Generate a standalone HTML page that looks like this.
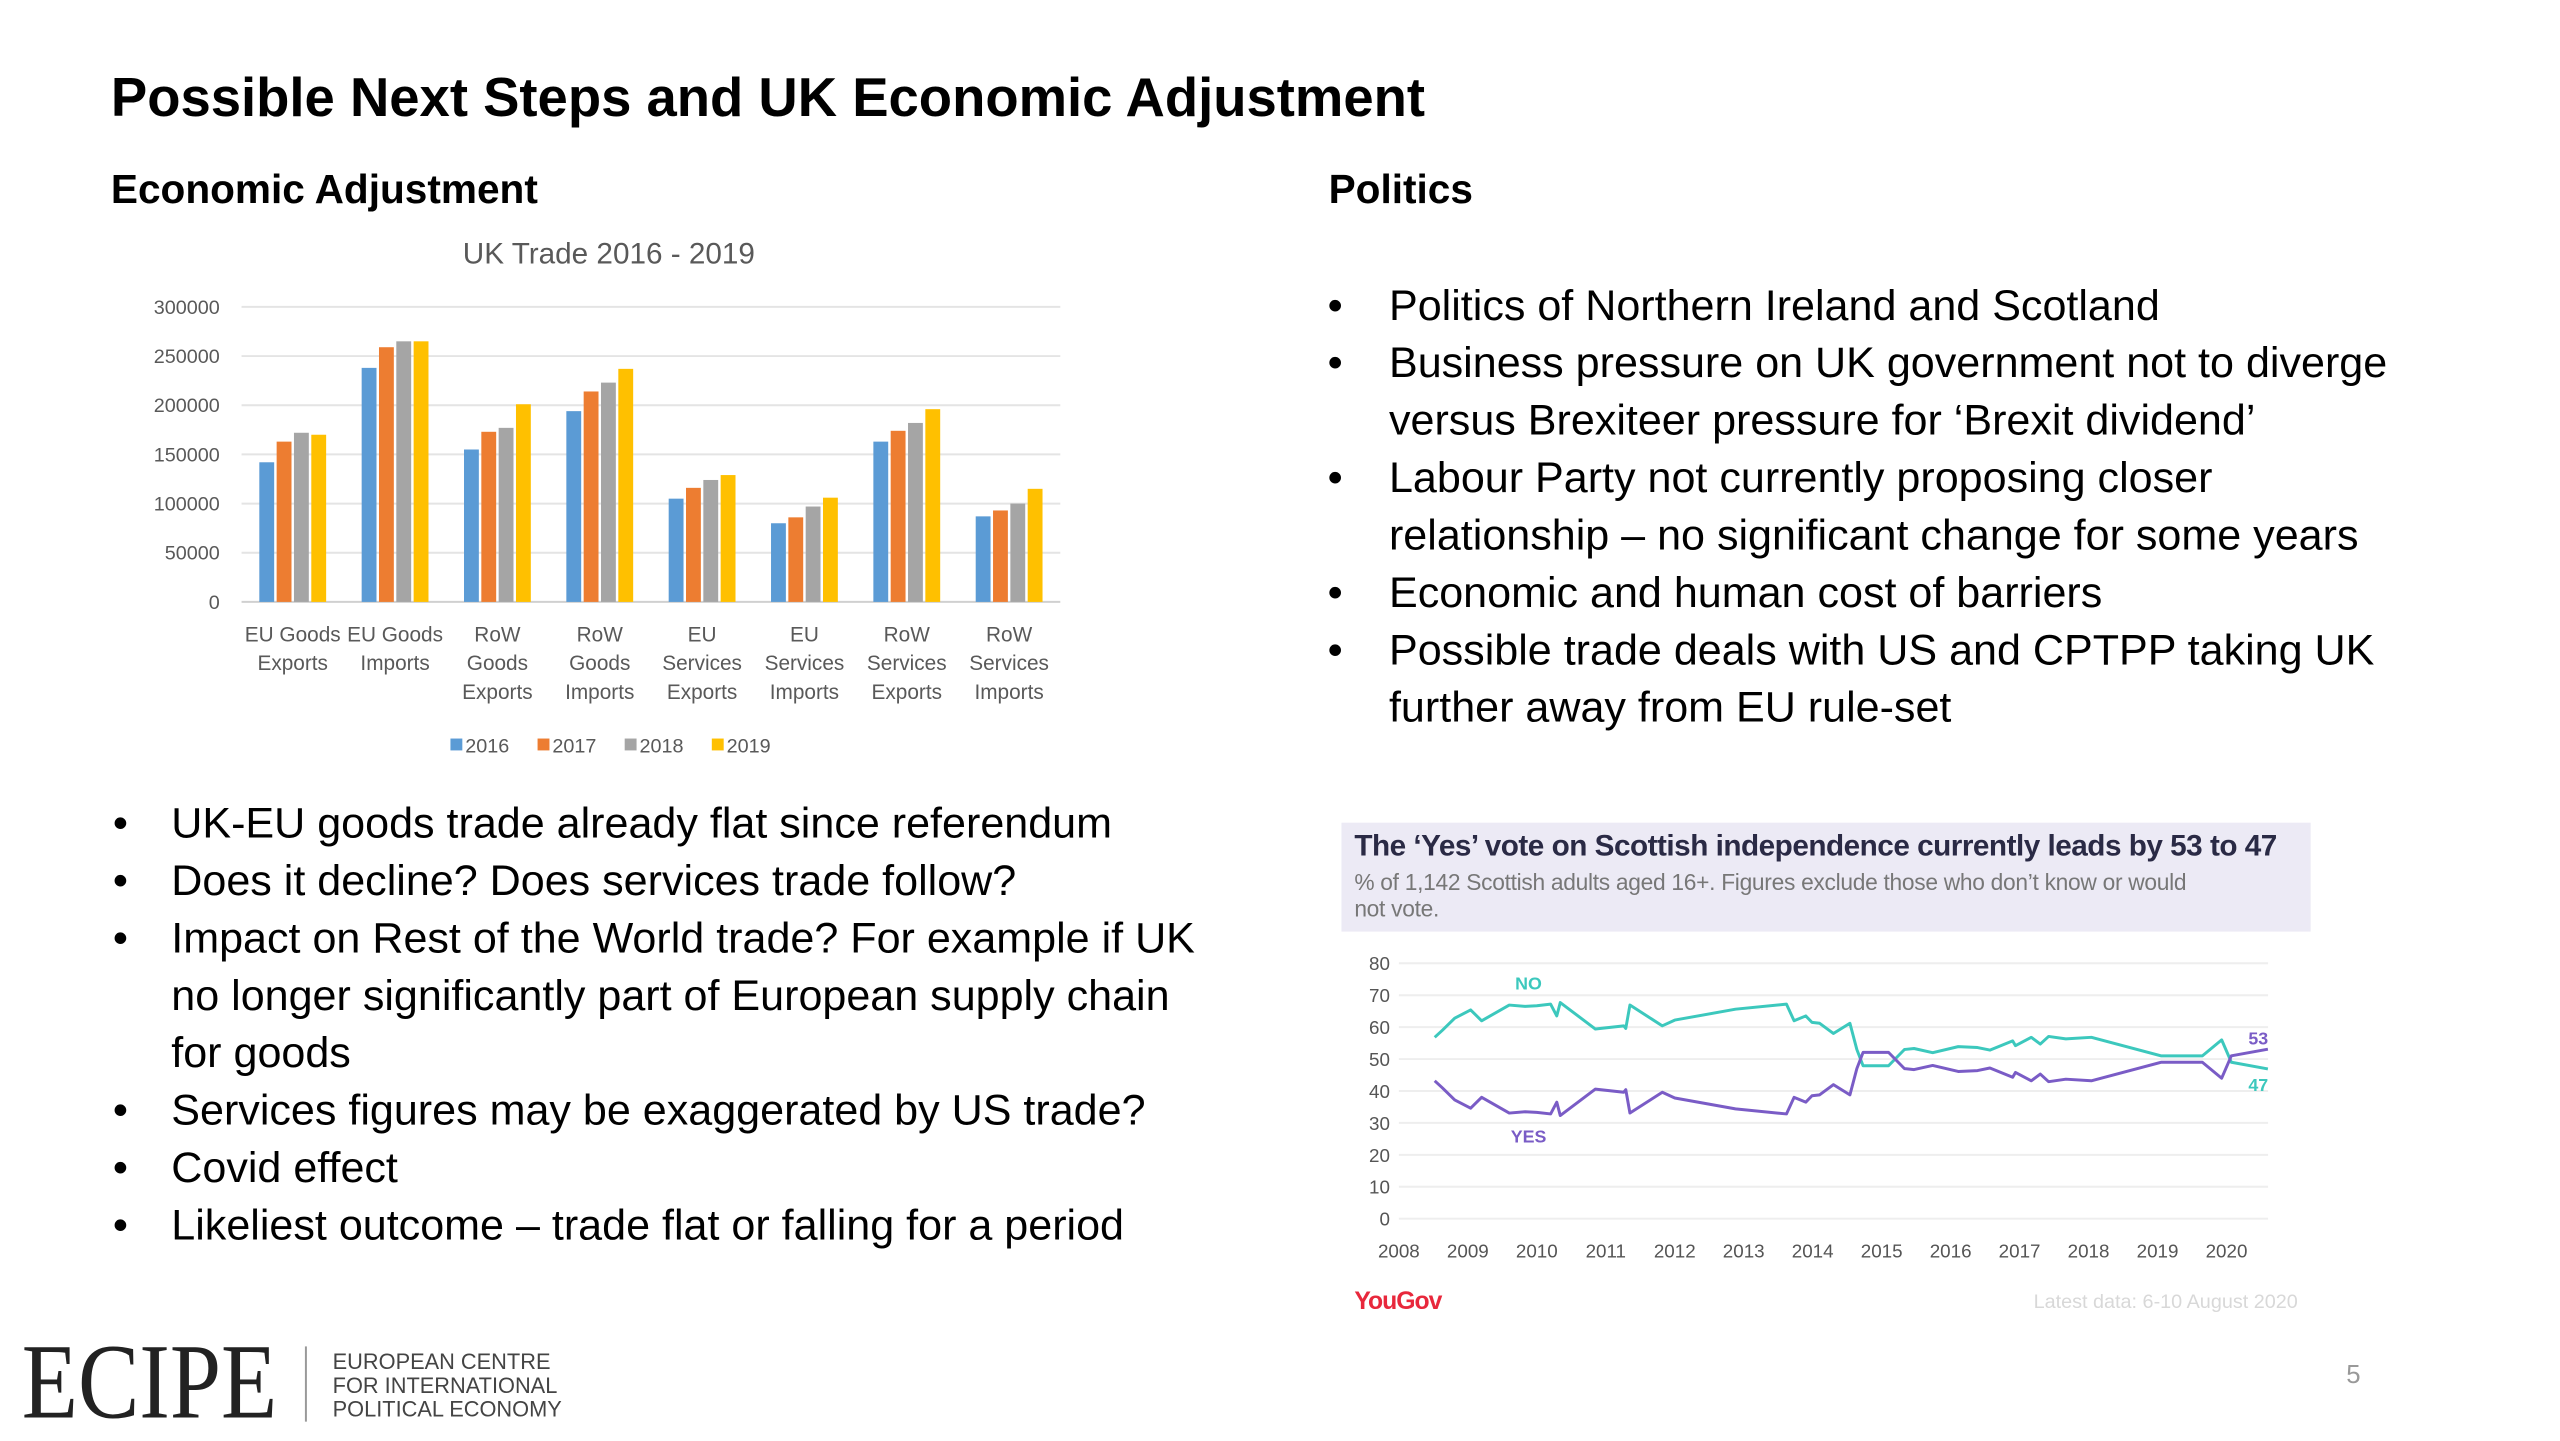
<!DOCTYPE html>
<html><head><meta charset="utf-8"><style>
body{margin:0;width:2560px;height:1440px;background:#fff;position:relative;overflow:hidden;font-family:"Liberation Sans",sans-serif;color:#000}
#wrap{position:absolute;left:0;top:0;width:2560px;height:1440px;transform:scale(0.99);transform-origin:0 0}
.a{position:absolute;white-space:nowrap}
.h{font-weight:bold}
ul{list-style:none;margin:0;padding:0}
.bl{position:absolute;font-size:43.5px;line-height:58px;white-space:nowrap}
.bl li{position:relative;padding-left:57px}
.bl li::before{content:"•";position:absolute;left:0}
</style></head><body>
<div id="wrap">
<div class="a h" style="left:112px;top:66px;font-size:55px">Possible Next Steps and UK Economic Adjustment</div>
<div class="a h" style="left:112px;top:168px;font-size:41px">Economic Adjustment</div>
<div class="a h" style="left:1342px;top:168px;font-size:41px">Politics</div>

<svg id="bar" style="position:absolute;left:0;top:0" width="1200" height="800"></svg>

<ul class="bl" style="left:1341px;top:280px">
<li style="padding-left:62px">Politics of Northern Ireland and Scotland</li>
<li style="padding-left:62px">Business pressure on UK government not to diverge<br>versus Brexiteer pressure for ‘Brexit dividend’</li>
<li style="padding-left:62px">Labour Party not currently proposing closer<br>relationship – no significant change for some years</li>
<li style="padding-left:62px">Economic and human cost of barriers</li>
<li style="padding-left:62px">Possible trade deals with US and CPTPP taking UK<br>further away from EU rule-set</li>
</ul>
<ul class="bl" style="left:114px;top:803px">
<li style="padding-left:59px">UK-EU goods trade already flat since referendum</li>
<li style="padding-left:59px">Does it decline? Does services trade follow?</li>
<li style="padding-left:59px">Impact on Rest of the World trade? For example if UK<br>no longer significantly part of European supply chain<br>for goods</li>
<li style="padding-left:59px">Services figures may be exaggerated by US trade?</li>
<li style="padding-left:59px">Covid effect</li>
<li style="padding-left:59px">Likeliest outcome – trade flat or falling for a period</li>
</ul>

<div class="a" style="left:1355px;top:831px;width:979px;height:110px;background:#eceaf5"></div>
<div class="a h" style="left:1368px;top:838px;font-size:30px;color:#2a2a45;letter-spacing:-0.5px">The ‘Yes’ vote on Scottish independence currently leads by 53 to 47</div>
<div class="a" style="left:1368px;top:878px;font-size:23px;line-height:27px;color:#777;letter-spacing:-0.3px">% of 1,142 Scottish adults aged 16+. Figures exclude those who don’t know or would<br>not vote.</div>
<svg id="line" style="position:absolute;left:1340px;top:940px" width="1000" height="360"></svg>
<div class="a h" style="left:1368px;top:1300px;font-size:25px;color:#e8283c;letter-spacing:-1px">YouGov</div>
<div class="a" style="right:239px;top:1304px;font-size:20px;color:#d8d8d8">Latest data: 6-10 August 2020</div>

<div class="a" style="left:22px;top:1343px;font-family:'Liberation Serif',serif;font-size:108px;line-height:108px;color:#222;transform:scaleX(0.86);transform-origin:left">ECIPE</div>
<div class="a" style="left:308px;top:1360px;width:2px;height:76px;background:#999"></div>
<div class="a" style="left:336px;top:1364px;font-size:22px;line-height:24px;color:#444">EUROPEAN CENTRE<br>FOR INTERNATIONAL<br>POLITICAL ECONOMY</div>
<div class="a" style="left:2370px;top:1373px;font-size:26px;color:#999">5</div>
</div>

<script>
const NS="http://www.w3.org/2000/svg";
function mk(p,t,at,txt){const e=document.createElementNS(NS,t);for(const k in at)e.setAttribute(k,at[k]);if(txt!==undefined)e.textContent=txt;p.appendChild(e);return e;}

// ---- Bar chart data ----
const categories=[["EU Goods","Exports"],["EU Goods","Imports"],["RoW","Goods","Exports"],["RoW","Goods","Imports"],["EU","Services","Exports"],["EU","Services","Imports"],["RoW","Services","Exports"],["RoW","Services","Imports"]];
const seriesNames=["2016","2017","2018","2019"];
const v2016=[142000,238000,155000,194000,105000,80000,163000,87000];
const v2017=[163000,259000,173000,214000,116000,86000,174000,93000];
const v2018=[172000,265000,177000,223000,124000,97000,182000,100000];
const v2019=[170000,265000,201000,237000,129000,106000,196000,115000];
const barTicks=[0,50000,100000,150000,200000,250000,300000];
const barColors=["#5b9bd5","#ed7d31","#a5a5a5","#ffc000"];

(function(){
const s=document.getElementById('bar');
const X0=244,X1=1071,Y0=608,Y1=310,ymax=300000;
const y=v=>Y0-(Y0-Y1)*v/ymax;
const bw=(X1-X0)/categories.length;
const xc=i=>X0+bw*(i+0.5);
let t=mk(s,'text',{x:615,y:266,'text-anchor':'middle','font-size':30,fill:'#595959'},'UK Trade 2016 - 2019');


barTicks.forEach(v=>{
 let g=mk(s,'line',{x1:X0,x2:X1,y1:y(v),y2:y(v),stroke:v===0?'#d0d0d0':'#e4e4e4','stroke-width':2});
 
 
 let l=mk(s,'text',{x:222,y:y(v)+7,'text-anchor':'end','font-size':20,fill:'#595959'},v);
 
 
});
const series=[v2016,v2017,v2018,v2019];
const w=15,gap=2.5;
categories.forEach((c,i)=>{
 series.forEach((sv,j)=>{
  const x=xc(i)+(j-2)*(w+gap)+gap/2;
  let r=mk(s,'rect',{x:x,y:y(sv[i]),width:w,height:Y0-y(sv[i]),fill:barColors[j]});
  
  
 });
 c.forEach((ln,k)=>{
  let l=mk(s,'text',{x:xc(i),y:648+k*29,'text-anchor':'middle','font-size':21,fill:'#595959'},ln);
  
  
 });
});
let lx=455;
seriesNames.forEach((n,j)=>{
 let r=mk(s,'rect',{x:lx,y:746,width:12,height:12,fill:barColors[j]});
 
 
 let l=mk(s,'text',{x:lx+15,y:760,'font-size':20,fill:'#595959'},n);
 
 
 lx+=88;
});
})();

// ---- Line chart data ----
const pollYears=[2008.52,2008.63,2008.81,2009.04,2009.2,2009.6,2009.83,2010.0,2010.2,2010.29,2010.34,2010.85,2011.26,2011.29,2011.35,2011.82,2012.0,2012.88,2013.62,2013.73,2013.9,2013.99,2014.1,2014.3,2014.54,2014.64,2014.73,2015.1,2015.33,2015.47,2015.74,2016.11,2016.39,2016.57,2016.9,2016.94,2017.17,2017.3,2017.42,2017.67,2018.04,2019.05,2019.65,2019.93,2020.07,2020.6];
const noValues=[56.8,59,62.8,65.4,62,66.9,66.5,66.7,67.2,63.5,67.7,59.4,60.4,59.6,66.9,60.4,62.2,65.6,67.2,62,63.5,61.5,61.2,58,61.2,53,47.9,47.9,53,53.3,52,53.9,53.6,52.8,55.7,54.2,56.8,54.7,57.1,56.3,56.8,51,51,56,49,46.9];
const yesValues=[43.2,41,37.2,34.6,38,33.1,33.5,33.3,32.8,36.5,32.3,40.6,39.6,40.4,33.1,39.6,37.8,34.4,32.8,38,36.5,38.5,38.8,42,38.8,47,52.1,52.1,47,46.7,48,46.1,46.4,47.2,44.3,45.8,43.2,45.3,42.9,43.7,43.2,49,49,44,51,53.1];
const yearTicks=[2008,2009,2010,2011,2012,2013,2014,2015,2016,2017,2018,2019,2020];
const pctTicks=[0,10,20,30,40,50,60,70,80];

(function(){
const s=document.getElementById('line');
const OX=1340,OY=940;
const X0=1413-OX,XE=2291-OX,Y0=1231-OY,Y80=973-OY;
const x=yr=>X0+(yr-2008)*(2249-1413)/12;
const y=v=>Y0-(Y0-Y80)*v/80;
pctTicks.forEach(v=>{
 let g=mk(s,'line',{x1:X0,x2:XE,y1:y(v),y2:y(v),stroke:'#eeeeee','stroke-width':2});
 
 
 let l=mk(s,'text',{x:1404-OX,y:y(v)+7,'text-anchor':'end','font-size':19,fill:'#555'},v);
 
 
});
yearTicks.forEach(yr=>{
 let l=mk(s,'text',{x:x(yr),y:1270-OY,'text-anchor':'middle','font-size':19,fill:'#555'},yr);
 
 
});
function path(vals,col,name){
 const d=vals.map((v,i)=>(i?'L':'M')+x(pollYears[i]).toFixed(1)+','+y(v).toFixed(1)).join('');
 let p=mk(s,'path',{d:d,fill:'none',stroke:col,'stroke-width':3,'stroke-linejoin':'round'});
 
 
}
path(noValues,'#3cc8bd','no-line');
path(yesValues,'#7a5cc6','yes-line');
const lab=[["NO",2009.88,74,'#3cc8bd'],["YES",2009.88,26,'#7a5cc6'],["53",2020.46,56.8,'#7a5cc6'],["47",2020.46,42.2,'#3cc8bd']];
lab.forEach(a=>{
 let l=mk(s,'text',{x:x(a[1]),y:y(a[2])+7,'text-anchor':'middle','font-size':18,'font-weight':'bold',fill:a[3]},a[0]);
 
 
});
})();
</script>
</body></html>
